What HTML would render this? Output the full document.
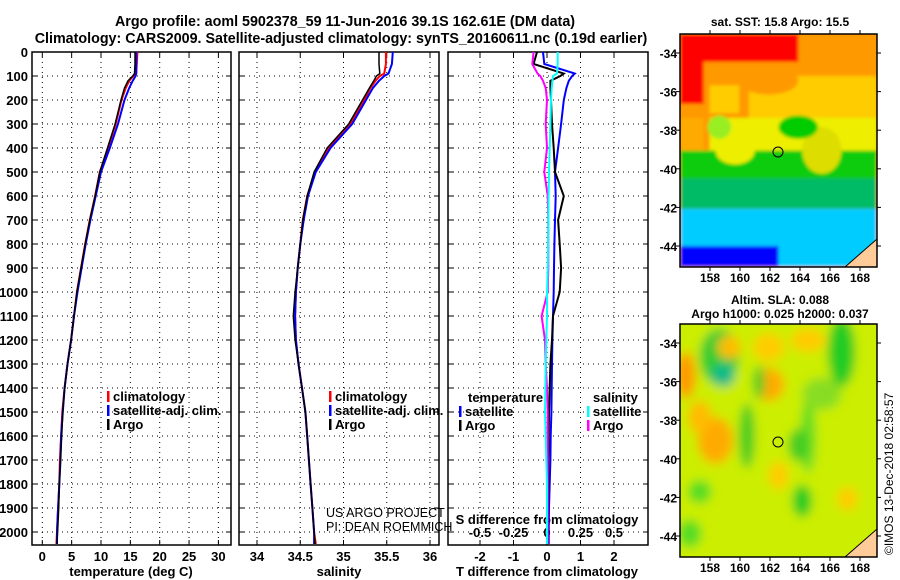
<!DOCTYPE html>
<html><head><meta charset="utf-8"><style>
body{margin:0;background:#fff}
svg{display:block;font-family:"Liberation Sans",sans-serif;font-weight:bold}
</style></head><body>
<svg id="c" width="900" height="580" viewBox="0 0 900 580">
<defs><filter id="bl" x="-10%" y="-10%" width="120%" height="120%"><feGaussianBlur stdDeviation="5"/></filter>
<filter id="bl2" x="-10%" y="-10%" width="120%" height="120%"><feGaussianBlur stdDeviation="1.5"/></filter></defs>
<text x="345" y="26" font-size="14.3" text-anchor="middle">Argo profile: aoml 5902378_59 11-Jun-2016 39.1S 162.61E (DM data)</text>
<text x="341" y="43" font-size="14.3" text-anchor="middle">Climatology: CARS2009. Satellite-adjusted climatology: synTS_20160611.nc (0.19d earlier)</text>
<g id="p1"></g>
<g id="p2"></g>
<g id="p3"></g>
<g id="m1"></g>
<g id="m2"></g>
<text x="326" y="517" font-size="12.5" font-weight="normal">US ARGO PROJECT</text>
<text x="326" y="531" font-size="12.5" font-weight="normal">PI: DEAN ROEMMICH</text>
<text x="780" y="26" font-size="12" text-anchor="middle">sat. SST: 15.8 Argo: 15.5</text>
<text x="780" y="304" font-size="12" text-anchor="middle">Altim. SLA: 0.088</text>
<text x="780" y="318" font-size="12" text-anchor="middle">Argo h1000: 0.025 h2000: 0.037</text>
<text transform="translate(893,555) rotate(-90)" font-size="12" font-weight="normal">©IMOS 13-Dec-2018 02:58:57</text>
</svg>
<script>
const depthTicks=[0,100,200,300,400,500,600,700,800,900,1000,1100,1200,1300,1400,1500,1600,1700,1800,1900,2000];
const tempTicks=[0,5,10,15,20,25,30];
const salTicks=["34","34.5","35","35.5","36"];
const tdTicks=[-2,-1,0,1,2];
const sdTicks=["-0.5","-0.25","0","0.25","0.5"];
const depths=[0,50,90,100,120,150,200,300,400,500,600,700,800,900,1000,1100,1200,1300,1400,1500,1600,1700,1800,1900,2000,2050];
const tempArgo=[15.8,15.8,15.7,15.4,14.6,14.0,13.4,12.4,11.1,9.8,9.0,8.1,7.3,6.6,5.9,5.4,4.9,4.3,3.8,3.5,3.3,3.1,2.9,2.8,2.6,2.5];
const tempClim=[16.2,16.1,16.0,15.5,14.8,14.2,13.5,12.5,11.2,9.8,9.0,8.1,7.3,6.6,5.9,5.4,4.9,4.3,3.8,3.4,3.2,3.0,2.9,2.7,2.5,2.4];
const tempSat=[16.0,16.0,16.0,15.9,15.4,14.8,14.0,12.9,11.5,10.0,9.1,8.2,7.4,6.7,6.0,5.4,4.9,4.3,3.8,3.5,3.2,3.1,2.9,2.7,2.5,2.5];
const salArgo=[35.41,35.41,35.42,35.38,35.35,35.3,35.22,35.06,34.81,34.66,34.58,34.53,34.5,34.47,34.44,34.42,34.44,34.48,34.52,34.56,34.58,34.6,34.62,34.64,34.66,34.67];
const salClim=[35.49,35.49,35.47,35.42,35.37,35.31,35.24,35.08,34.83,34.67,34.58,34.53,34.5,34.47,34.45,34.44,34.45,34.48,34.52,34.56,34.58,34.6,34.62,34.64,34.66,34.68];
const salSat=[35.57,35.56,35.52,35.47,35.41,35.34,35.26,35.1,34.85,34.68,34.59,34.54,34.5,34.47,34.45,34.44,34.45,34.48,34.52,34.56,34.58,34.6,34.62,34.64,34.66,34.66];
const tdArgo=[-0.3,-0.4,0.5,0.4,0.1,0.1,0.12,0.15,0.2,0.24,0.5,0.33,0.38,0.42,0.38,0.18,0.15,0.1,0.08,0.06,0.05,0.04,0.04,0.03,0.03,0.03];
const tdSat=[-0.12,-0.08,0.83,0.75,0.65,0.58,0.5,0.42,0.33,0.24,0.26,0.24,0.22,0.21,0.2,0.18,0.16,0.15,0.14,0.13,0.11,0.1,0.08,0.06,0.05,0.05];
const sdArgo=[-0.1,-0.11,-0.07,-0.05,-0.03,-0.01,0,-0.01,0,-0.02,0.005,0.01,0.01,0.01,0.005,-0.04,-0.015,-0.01,0,0.005,0.005,0.005,0.005,0.005,0.005,0.005];
const sdSat=[0.08,0.08,0.075,0.045,0.04,0.035,0.03,0.025,0.02,0.015,0.012,0.01,0.008,0.006,0.0,0.0,-0.005,-0.01,-0.012,-0.015,-0.01,-0.005,0,0,0,0];
const NS='http://www.w3.org/2000/svg';
function mk(tag,attrs,parent,txt){const e=document.createElementNS(NS,tag);for(const k in attrs)e.setAttribute(k,attrs[k]);if(txt!==undefined)e.textContent=txt;parent.appendChild(e);return e;}
const Y=d=>52+d*0.24;
const TOP=52,BOT=545;
function frame(g,x0,x1,grid){
  depthTicks.forEach(d=>{const l=mk('line',{x1:x0,x2:x1,y1:Y(d),y2:Y(d),stroke:'#000','stroke-dasharray':'1,4'},g);
    
    
    mk('line',{x1:x0,x2:x0+5,y1:Y(d),y2:Y(d),stroke:'#000'},g);mk('line',{x1:x1-5,x2:x1,y1:Y(d),y2:Y(d),stroke:'#000'},g);});
  grid.forEach(x=>{const l=mk('line',{x1:x,x2:x,y1:TOP,y2:BOT,stroke:'#000','stroke-dasharray':'1,4'},g);
    
    
    mk('line',{x1:x,x2:x,y1:BOT-5,y2:BOT,stroke:'#000'},g);mk('line',{x1:x,x2:x,y1:TOP,y2:TOP+5,stroke:'#000'},g);});
  const r=mk('rect',{x:x0,y:TOP,width:x1-x0,height:BOT-TOP,fill:'none',stroke:'#000','stroke-width':1.5},g);
  
  
}
function line(g,xs,xf,col,name,w){const pts=depths.map((d,i)=>xf(xs[i]).toFixed(1)+','+Y(d).toFixed(1)).join(' ');
  const p=mk('polyline',{points:pts,fill:'none',stroke:col,'stroke-width':w||2},g);
  
  }
function legend(g,x,y,items){items.forEach((it,i)=>{mk('rect',{x:x,y:y+i*14-6,width:2.5,height:11,fill:it[0]},g);
  const t=mk('text',{x:x+6,y:y+i*14+4,'font-size':13},g,it[1]);
  
  });}
// panel 1
const p1=document.getElementById('p1');
const xT=v=>42.3+v*5.87;
frame(p1,32,231,tempTicks.map(xT));
depthTicks.forEach(d=>{const t=mk('text',{x:28,y:Y(d)+5,'font-size':13,'text-anchor':'end'},p1,String(d));
  
  });
tempTicks.forEach(v=>{const t=mk('text',{x:xT(v),y:561,'font-size':13,'text-anchor':'middle'},p1,String(v));
  
  });
mk('text',{x:131,y:576,'font-size':13,'text-anchor':'middle',},p1,'temperature (deg C)');
line(p1,tempClim,xT,'#f00','temp-climatology-line');
line(p1,tempSat,xT,'#00f','temp-satellite-line');
line(p1,tempArgo,xT,'#000','temp-argo-line',1.5);
legend(p1,107,397,[['#f00','climatology'],['#00f','satellite-adj. clim.'],['#000','Argo']]);
// panel 2
const p2=document.getElementById('p2');
const xS=v=>257+(v-34)*86.5;
frame(p2,239,439,salTicks.map(s=>xS(+s)));
salTicks.forEach(v=>{const t=mk('text',{x:xS(+v),y:561,'font-size':13,'text-anchor':'middle'},p2,v);
  
  });
mk('text',{x:339,y:576,'font-size':13,'text-anchor':'middle',},p2,'salinity');
line(p2,salClim,xS,'#f00','sal-climatology-line');
line(p2,salSat,xS,'#00f','sal-satellite-line');
line(p2,salArgo,xS,'#000','sal-argo-line',1.5);
legend(p2,329,397,[['#f00','climatology'],['#00f','satellite-adj. clim.'],['#000','Argo']]);
// panel 3
const p3=document.getElementById('p3');
const xD=v=>547+v*33.5;
const xSD=v=>547+v*134;
frame(p3,448,648,tdTicks.map(xD));
tdTicks.forEach(v=>{const t=mk('text',{x:xD(v),y:561,'font-size':13,'text-anchor':'middle'},p3,String(v));
  
  });
sdTicks.forEach(v=>{const t=mk('text',{x:xSD(+v),y:537,'font-size':13,'text-anchor':'middle'},p3,v);
  
  });
mk('text',{x:547,y:524,'font-size':13,'text-anchor':'middle',},p3,'S difference from climatology');
mk('text',{x:547,y:576,'font-size':13,'text-anchor':'middle',},p3,'T difference from climatology');
line(p3,tdSat,xD,'#00f','tdiff-satellite-line');
line(p3,tdArgo,xD,'#000','tdiff-argo-line');
line(p3,sdArgo,xSD,'#f0f','sdiff-argo-line');
line(p3,sdSat,xSD,'#0ff','sdiff-satellite-line');
mk('text',{x:468,y:402,'font-size':13,},p3,'temperature');
mk('text',{x:593,y:402,'font-size':13,},p3,'salinity');
legend(p3,459,412,[['#00f','satellite'],['#000','Argo']]);
legend(p3,587,412,[['#0ff','satellite'],['#f0f','Argo']]);
// maps
function map(id,y0,bands,blobs,filt){
  const g=document.getElementById(id);
  const W=197,H=233,x0=680;
  const cp=mk('clipPath',{id:id+'c'},g);mk('rect',{x:x0,y:y0,width:W,height:H},cp);
  const outer=mk('g',{'clip-path':'url(#'+id+'c)'},g);
  const inner=mk('g',{filter:'url(#'+filt+')'},outer);
  mk('rect',{x:x0-20,y:y0-20,width:W+40,height:H+40,fill:bands[0][4]},inner);
  bands.forEach(b=>{mk('rect',{x:x0+b[0]*W,y:y0+b[1]*H,width:b[2]*W,height:b[3]*H,fill:b[4]},inner);});
  blobs.forEach(b=>{mk('ellipse',{cx:x0+b[0]*W,cy:y0+b[1]*H,rx:b[2]*W,ry:b[3]*H,fill:b[4]},inner);});
  mk('polygon',{points:`${x0+165},${y0+H} ${x0+W},${y0+205} ${x0+W},${y0+H}`,fill:'#fc9',stroke:'#000'},outer);
  mk('circle',{cx:x0+98,cy:y0+118,r:5,fill:'none',stroke:'#000'},outer);
  mk('rect',{x:x0,y:y0,width:W,height:H,fill:'none',stroke:'#000','stroke-width':1.5},g);
  [-34,-36,-38,-40,-42,-44].forEach((la,i)=>{const y=y0+19+i*38.6;
    mk('line',{x1:x0-4,x2:x0,y1:y,y2:y,stroke:'#000'},g);mk('line',{x1:x0+W,x2:x0+W+4,y1:y,y2:y,stroke:'#000'},g);
    const t=mk('text',{x:x0-3,y:y+5,'font-size':12,'text-anchor':'end'},g,String(la));
    
    });
  [158,160,162,164,166,168].forEach((lo,i)=>{const x=x0+30+i*30;
    mk('line',{x1:x,x2:x,y1:y0-4,y2:y0,stroke:'#000'},g);mk('line',{x1:x,x2:x,y1:y0+H,y2:y0+H+4,stroke:'#000'},g);
    const t=mk('text',{x:x,y:y0+H+15,'font-size':12,'text-anchor':'middle'},g,String(lo));
    
    });
}
map('m1',34,[[0,0,1,1,'#f90'],[0,0,0.6,0.12,'#f00'],[0,0,0.12,0.3,'#f00'],[0.35,0.18,0.65,0.22,'#fc0'],[0.15,0.22,0.15,0.12,'#fc0'],[0.15,0.36,0.85,0.14,'#ee0'],[0,0.36,0.12,0.14,'#fa0'],[0,0.5,1,0.12,'#1c1'],[0,0.62,1,0.13,'#0b6'],[0,0.75,1,0.25,'#0cf'],[0,0.91,0.5,0.09,'#00f']],
 [[0.28,0.5,0.1,0.06,'#ee0'],[0.72,0.5,0.1,0.1,'#dd0'],[0.45,0.2,0.15,0.06,'#f90'],[0.6,0.4,0.1,0.05,'#0c0'],[0.2,0.4,0.06,0.05,'#9e2']],'bl2');
map('m2',324,[[0,0,1,1,'#ce0']],
 [[0.2,0.14,0.1,0.12,'#3c3'],[0.22,0.22,0.06,0.05,'#1b8'],[0.65,0.48,0.04,0.16,'#6d2'],[0.82,0.12,0.07,0.15,'#2c2'],[0.72,0.3,0.1,0.07,'#8d2'],[0.03,0.22,0.05,0.1,'#f90'],[0.45,0.1,0.08,0.06,'#fc0'],[0.65,0.07,0.09,0.05,'#fc0'],[0.45,0.26,0.08,0.07,'#fa0'],[0.18,0.5,0.09,0.1,'#fa0'],[0.1,0.4,0.06,0.07,'#fb0'],[0.4,0.25,0.03,0.07,'#4c2'],[0.34,0.48,0.04,0.14,'#4c2'],[0.6,0.52,0.05,0.07,'#4c2'],[0.62,0.76,0.05,0.07,'#2c2'],[0.1,0.72,0.06,0.05,'#5d2'],[0.85,0.75,0.05,0.05,'#fc0'],[0.05,0.9,0.06,0.06,'#5d2'],[0.25,0.1,0.06,0.05,'#fb0'],[0.5,0.65,0.05,0.06,'#fc0']],'bl');
</script>
</body></html>
